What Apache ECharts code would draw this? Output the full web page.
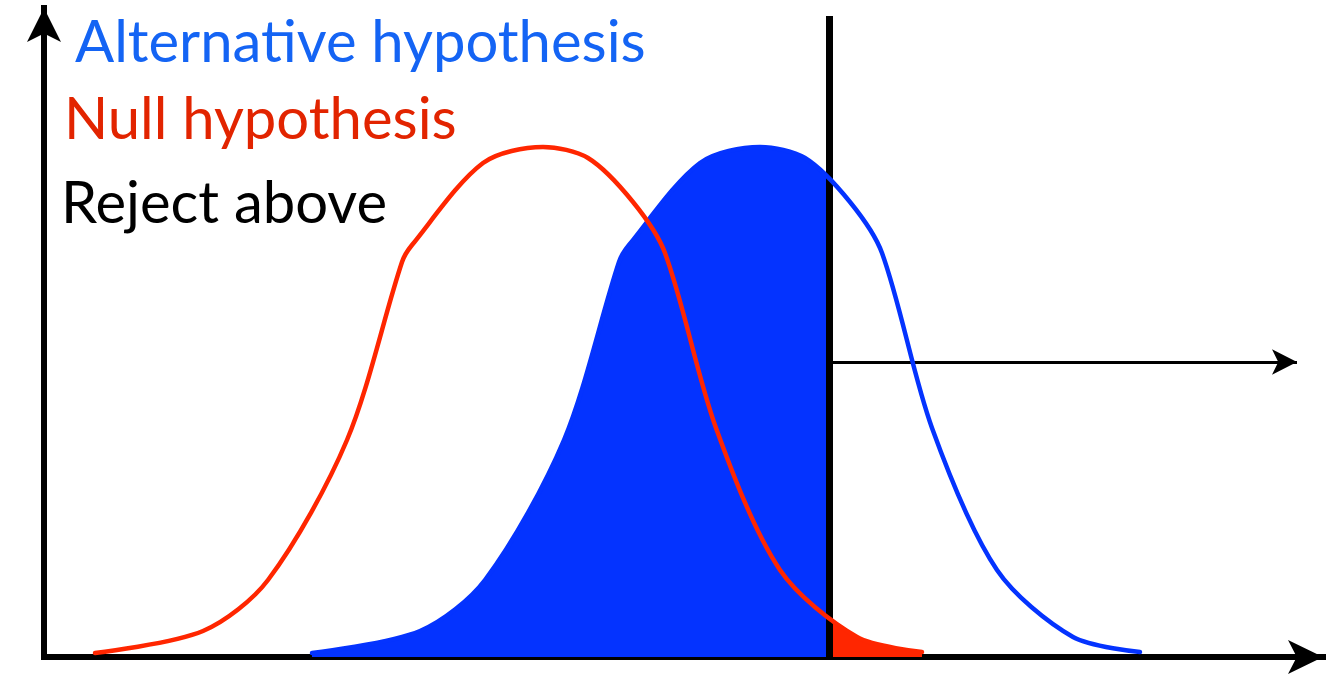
<!DOCTYPE html>
<html>
<head>
<meta charset="utf-8">
<script src="https://cdn.jsdelivr.net/npm/echarts@6/dist/echarts.min.js"></script>
<style>
  html, body { margin: 0; padding: 0; background: #fff; }
  #chart { width: 1339px; height: 675px; }
</style>
</head>
<body>
<div id="chart"></div>
<script>
// null hypothesis curve (x, height)
const nullX = [51, 159, 224, 303, 358, 368, 439, 499, 544, 589, 621, 672, 736, 813, 878];
const nullY = [4, 26, 77, 217, 395, 412, 494, 510, 499, 455, 404, 229, 87, 20, 5];
// alternative hypothesis curve
const altX = [268, 376, 441, 520, 575, 585, 656, 716, 761, 806, 838, 888, 953, 1029, 1096];
const altY = [4, 26, 77, 217, 395, 412, 494, 510, 499, 455, 404, 229, 87, 20, 5];
// reject threshold and the "above" arrow
const rejectX = 785;
const rejectTop = 641;
const arrowY = 295;
const arrowEndX = 1253;

const labels = ["Alternative hypothesis", "Null hypothesis", "Reject above"];

const BLUE = "#0433FF";
const RED = "#FF2600";
const CLEAR = "rgba(255,255,255,0)";
const SMOOTH = 0.3;

const toPairs = (xs, ys) => xs.map((x, i) => [x, ys[i]]);

const myChart = echarts.init(document.getElementById("chart"));

const options = {
  animation: false,
  backgroundColor: "#fff",
  grid: { left: 44, right: 16, top: 8, bottom: 18 },
  xAxis: {
    type: "value",
    min: 0,
    max: 1279,
    axisLine: {
      symbol: ["none", "arrow"],
      symbolSize: [25.5, 35],
      lineStyle: { color: "#000", width: 6, cap: "square" },
    },
    axisTick: { show: false },
    axisLabel: { show: false },
    splitLine: { show: false },
  },
  yAxis: {
    type: "value",
    min: 0,
    max: 649,
    axisLine: {
      show: true,
      symbol: ["none", "arrow"],
      symbolSize: [25.5, 34],
      lineStyle: { color: "#000", width: 6, cap: "square" },
    },
    axisTick: { show: false },
    axisLabel: { show: false },
    splitLine: { show: false },
  },
  // fills: blue left of threshold, red right of it
  visualMap: [
    {
      type: "piecewise",
      show: false,
      dimension: 0,
      seriesIndex: 0,
      pieces: [
        { gte: -10000, lt: rejectX, color: BLUE },
        { gte: rejectX, lte: 10000, color: CLEAR },
      ],
    },
    {
      type: "piecewise",
      show: false,
      dimension: 0,
      seriesIndex: 1,
      pieces: [
        { gte: -10000, lt: rejectX, color: CLEAR },
        { gte: rejectX, lte: 10000, color: RED },
      ],
    },
  ],
  graphic: [
    {
      type: "text",
      left: 75,
      top: 14,
      style: { text: labels[0], fill: "#1464F4", font: "58px Lato" },
    },
    {
      type: "text",
      left: 64,
      top: 91,
      style: { text: labels[1], fill: "#E22400", font: "58px Lato" },
    },
    {
      type: "text",
      left: 61,
      top: 175,
      style: { text: labels[2], fill: "#000", font: "58px Lato" },
    },
  ],
  series: [
    {
      name: "alt fill",
      type: "line",
      data: toPairs(altX, altY),
      smooth: SMOOTH,
      symbol: "none",
      silent: true,
      lineStyle: { width: 0 },
      areaStyle: { opacity: 1 },
      z: 1,
    },
    {
      name: "null fill",
      type: "line",
      data: toPairs(nullX, nullY),
      smooth: SMOOTH,
      symbol: "none",
      silent: true,
      lineStyle: { width: 0 },
      areaStyle: { opacity: 1 },
      z: 1,
    },
    {
      name: "reject",
      type: "line",
      data: [],
      z: 2,
      markLine: {
        silent: true,
        animation: false,
        label: { show: false },
        symbol: ["none", "none"],
        data: [
          [
            { coord: [rejectX, 0], symbol: "none" },
            { coord: [rejectX, rejectTop], symbol: "none" },
          ],
          [
            { coord: [rejectX, arrowY], symbol: "none", lineStyle: { width: 3, type: "solid", color: "#000" } },
            { coord: [arrowEndX, arrowY], symbol: "arrow", symbolSize: [19, 25] },
          ],
        ],
        lineStyle: { color: "#000", width: 7, type: "solid" },
      },
    },
    {
      name: "Alternative hypothesis",
      type: "line",
      data: toPairs(altX, altY),
      smooth: SMOOTH,
      symbol: "none",
      silent: true,
      lineStyle: { color: BLUE, width: 4.5, join: "round", cap: "round" },
      z: 5,
    },
    {
      name: "Null hypothesis",
      type: "line",
      data: toPairs(nullX, nullY),
      smooth: SMOOTH,
      symbol: "none",
      silent: true,
      lineStyle: { color: RED, width: 4.5, join: "round", cap: "round" },
      z: 6,
    },
  ],
};

myChart.setOption(options);
</script>
</body>
</html>
